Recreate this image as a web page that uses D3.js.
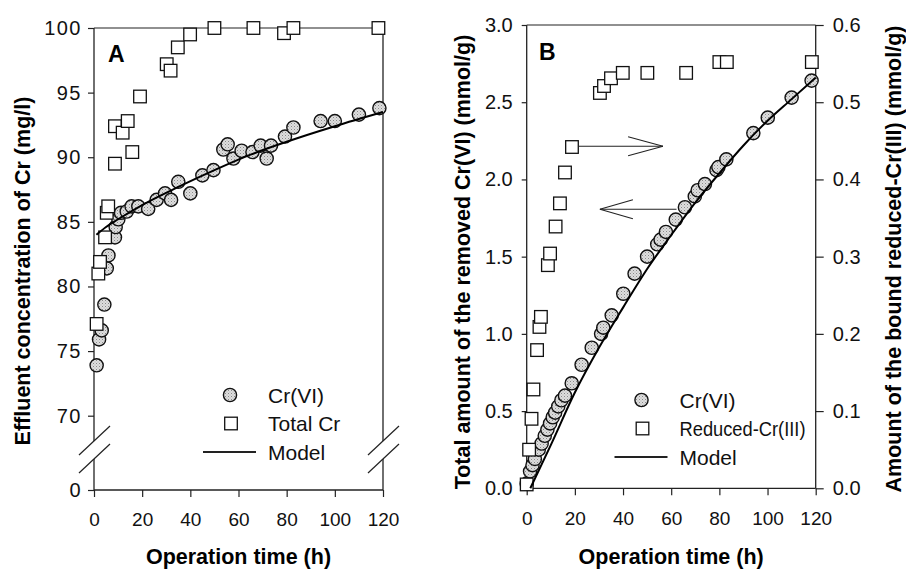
<!DOCTYPE html>
<html>
<head>
<meta charset="utf-8">
<script src="https://cdn.jsdelivr.net/npm/d3@7"></script>
<style>
  body { margin: 0; background: #fff; }
  svg { display: block; font-family: "Liberation Sans", Arial, sans-serif; }
</style>
</head>
<body>
<div id="chart"></div>
<script>
// ---- data ----
var hourTicks = [0, 20, 40, 60, 80, 100, 120];
var aYTicks = [0, 70, 75, 80, 85, 90, 95, 100];
var bLeftTicks = [0, 0.5, 1.0, 1.5, 2.0, 2.5, 3.0];
var bRightTicks = [0, 0.1, 0.2, 0.3, 0.4, 0.5, 0.6];

// panel A : effluent concentration (mg/l)
var aCrVI = [
    [1.1, 73.9], [2.1, 75.9], [3.2, 76.6], [4.3, 78.6], [5.3, 81.4], [6.0, 82.4],
    [8.7, 83.8], [9.0, 84.6], [10.1, 85.2], [11.2, 85.7], [13.6, 85.8], [15.6, 86.2],
    [18.4, 86.2], [22.5, 86.0], [26.0, 86.7], [29.5, 87.2], [32.0, 86.7], [35.0, 88.1],
    [40.0, 87.2], [45.0, 88.6], [49.6, 89.0], [53.7, 90.6], [55.5, 91.0], [57.9, 89.9],
    [61.3, 90.5], [65.8, 90.4], [69.2, 90.9], [71.7, 89.9], [73.5, 90.9], [79.3, 91.6],
    [82.8, 92.3], [94.1, 92.8], [100, 92.8], [110, 93.3], [118.5, 93.8]
];
var aTotalCr = [
    [1.1, 77.1], [1.8, 81.0], [2.5, 81.9], [4.6, 83.8], [5.3, 85.7], [5.9, 86.2],
    [8.7, 89.5], [8.7, 92.4], [11.9, 91.9], [14.0, 92.8], [15.9, 90.4], [19.1, 94.7],
    [30.2, 97.2], [31.8, 96.7], [34.8, 98.5], [39.9, 99.5], [50.0, 100], [66.2, 100],
    [78.9, 99.6], [82.8, 100], [118.1, 100]
];
var aModel = [
    [1, 84.0], [5, 84.6], [10, 85.2], [20, 86.3], [35, 87.7], [50, 89.0],
    [65, 90.2], [80, 91.2], [100, 92.4], [120, 93.5]
];

// panel B : removed Cr(VI) (left axis) and bound reduced Cr(III) (right axis), mmol/g
var bCrVI = [
    [0, 0.03], [1.4, 0.11], [2.4, 0.15], [3.4, 0.19], [5.0, 0.25], [6.2, 0.29],
    [7.5, 0.34], [8.6, 0.38], [9.7, 0.42], [10.8, 0.46], [11.8, 0.49], [13.1, 0.53],
    [14.4, 0.57], [15.9, 0.60], [18.7, 0.68], [22.8, 0.80], [27.0, 0.91], [30.9, 1.00],
    [31.8, 1.04], [35.3, 1.12], [40.1, 1.26], [44.8, 1.39], [50.0, 1.50], [54.2, 1.58],
    [55.6, 1.61], [57.8, 1.66], [61.9, 1.74], [65.7, 1.82], [69.8, 1.89], [71.0, 1.93],
    [74.0, 1.97], [78.8, 2.06], [79.6, 2.08], [82.9, 2.13], [94.1, 2.30], [100.1, 2.40],
    [110, 2.53], [118.3, 2.64]
];
var bReduced = [
    [0, 0.005], [1.0, 0.05], [2.0, 0.09], [2.8, 0.128], [4.3, 0.179], [5.3, 0.209],
    [5.9, 0.222], [8.8, 0.289], [9.7, 0.304], [12.0, 0.339], [13.8, 0.369], [15.9, 0.409],
    [18.8, 0.442], [30.4, 0.512], [32.1, 0.521], [35.0, 0.531], [39.9, 0.538], [50.1, 0.538],
    [66.2, 0.538], [80.0, 0.552], [83.1, 0.552], [118.4, 0.552]
];
var bModel = [
    [1.5, 0], [10, 0.28], [20, 0.62], [30, 0.91], [40, 1.17], [50, 1.42], [60, 1.64],
    [70, 1.85], [80, 2.04], [90, 2.22], [100, 2.38], [110, 2.52], [120, 2.66]
];
// arrows in B: [from hour, to hour, head base hour, value]
var arrowRight = [21.3, 56.6, 42.1, 0.443];   // right axis units
var arrowLeft = [62.2, 30.4, 44.1, 1.807];    // left axis units

var width = 906, height = 570;
var titleFont = "21.5px", tickFont = "19px", legendFont = "21px";

var svg = d3.select("#chart").append("svg")
    .attr("width", width)
    .attr("height", height);

// halftone-ish fill for the circles
var defs = svg.append("defs");
var pat = defs.append("pattern")
    .attr("id", "dots")
    .attr("width", 3).attr("height", 3)
    .attr("patternUnits", "userSpaceOnUse");
pat.append("rect").attr("width", 3).attr("height", 3).attr("fill", "#dedede");
pat.append("rect").attr("width", 1).attr("height", 1).attr("fill", "#8a8a8a");
pat.append("rect").attr("x", 1.5).attr("y", 1.5).attr("width", 1).attr("height", 1).attr("fill", "#b0b0b0");

var lineColor = "#222";
var circR = 6.6, sq = 12.6;

function styleAxis(g, fs) {
    g.select(".domain").remove();
    g.selectAll(".tick line").attr("stroke", lineColor).attr("stroke-width", 1.2);
    g.selectAll(".tick text").attr("fill", "#111").style("font-size", fs)
        .style("font-family", "'Liberation Sans', Arial, sans-serif");
}

function drawCircles(g, data, x, y) {
    g.append("g").selectAll("circle")
        .data(data).enter()
      .append("circle")
        .attr("cx", function(d) { return x(d[0]); })
        .attr("cy", function(d) { return y(d[1]); })
        .attr("r", circR)
        .attr("fill", "url(#dots)")
        .attr("stroke", "#111")
        .attr("stroke-width", 1.4);
}

function drawSquares(g, data, x, y) {
    g.append("g").selectAll("rect")
        .data(data).enter()
      .append("rect")
        .attr("x", function(d) { return x(d[0]) - sq / 2; })
        .attr("y", function(d) { return y(d[1]) - sq / 2; })
        .attr("width", sq)
        .attr("height", sq)
        .attr("fill", "#fff")
        .attr("stroke", "#111")
        .attr("stroke-width", 1.3);
}

function drawModel(g, data, x, y) {
    var line = d3.line()
        .x(function(d) { return x(d[0]); })
        .y(function(d) { return y(d[1]); })
        .curve(d3.curveMonotoneX);
    g.append("path")
        .datum(data)
        .attr("d", line)
        .attr("fill", "none")
        .attr("stroke", "#000")
        .attr("stroke-width", 2);
}

function seg(g, x1, y1, x2, y2, w) {
    g.append("line")
        .attr("x1", x1).attr("y1", y1).attr("x2", x2).attr("y2", y2)
        .attr("stroke", lineColor).attr("stroke-width", w || 1.2);
}

function legend(g, lx, ly, labels, squareLen) {
    var rowGap = 28.5;
    g.append("circle").attr("cx", lx).attr("cy", ly).attr("r", circR)
        .attr("fill", "url(#dots)").attr("stroke", "#111").attr("stroke-width", 1.4);
    g.append("rect").attr("x", lx + 1 - sq / 2).attr("y", ly + rowGap - sq / 2)
        .attr("width", sq).attr("height", sq)
        .attr("fill", "#fff").attr("stroke", "#111").attr("stroke-width", 1.3);
    seg(g, lx - 27, ly + rowGap * 2, lx + 26, ly + rowGap * 2, 2);
    labels.forEach(function(t, i) {
        var txt = g.append("text")
            .attr("x", lx + 38)
            .attr("y", ly + rowGap * i + 7.5)
            .style("font-size", legendFont)
            .attr("fill", "#111")
            .text(t);
        if (i === 1 && squareLen) {
            txt.attr("textLength", squareLen).attr("lengthAdjust", "spacingAndGlyphs");
        }
    });
}

// ================= Panel A =================
var ax = d3.scaleLinear().domain([0, 120]).range([94, 383]);
var ay = d3.scaleLinear().domain([0, 70, 100]).range([490, 415.7, 28]);
var gA = svg.append("g");

var brkA = ay(0) - 40;   // centre of the axis break
// frame with breaks on left and right
[ax(0), ax(120)].forEach(function(xx) {
    seg(gA, xx, ay(100), xx, brkA - 9, 1.3);
    seg(gA, xx, brkA + 9, xx, ay(0), 1.3);
    seg(gA, xx - 15, brkA - 9 + 14, xx + 16, brkA - 9 - 15, 1.2);
    seg(gA, xx - 15, brkA + 9 + 14, xx + 16, brkA + 9 - 15, 1.2);
});
seg(gA, ax(0), ay(100), ax(120), ay(100), 1.1);
seg(gA, ax(0), ay(0), ax(120), ay(0), 1.3);

gA.append("g")
    .attr("transform", "translate(0," + ay(0) + ")")
    .call(d3.axisBottom(ax).tickValues(hourTicks).tickSize(7).tickPadding(16))
    .call(function(g) { styleAxis(g, tickFont); });

gA.append("g")
    .attr("transform", "translate(" + ax(0) + ",0)")
    .call(d3.axisLeft(ay).tickValues(aYTicks).tickSize(6).tickPadding(6))
    .call(function(g) {
        styleAxis(g, "20px");
        g.selectAll(".tick text").style("letter-spacing", "1.5px");
    });

drawCircles(gA, aCrVI, ax, ay);
drawSquares(gA, aTotalCr, ax, ay);
drawModel(gA, aModel, ax, ay);

gA.append("text").attr("x", 108).attr("y", 62)
    .style("font-size", "23px").style("font-weight", "bold").text("A");

legend(gA, 230, 395, ["Cr(VI)", "Total Cr", "Model"]);

gA.append("text")
    .attr("x", (ax(0) + ax(120)) / 2).attr("y", 564)
    .attr("text-anchor", "middle")
    .style("font-size", titleFont).style("font-weight", "bold")
    .text("Operation time (h)");

gA.append("text")
    .attr("transform", "translate(30," + 271 + ") rotate(-90)")
    .attr("text-anchor", "middle")
    .style("font-size", titleFont).style("font-weight", "bold")
    .text("Effluent concentration of Cr (mg/l)");

// ================= Panel B =================
var bx = d3.scaleLinear().domain([0, 120]).range([526.7, 815.7]);
var byL = d3.scaleLinear().domain([0, 3]).range([488.3, 25]);
var byR = d3.scaleLinear().domain([0, 0.6]).range([488.3, 25]);
var gB = svg.append("g");

seg(gB, bx(0), byL(3), bx(0), byL(0), 1.3);
seg(gB, bx(120), byL(3), bx(120), byL(0), 1.3);
seg(gB, bx(0), byL(3), bx(120), byL(3), 1.1);
seg(gB, bx(0), byL(0), bx(120), byL(0), 1.3);

gB.append("g")
    .attr("transform", "translate(0," + byL(0) + ")")
    .call(d3.axisBottom(bx).tickValues(hourTicks).tickSize(7).tickPadding(16))
    .call(function(g) { styleAxis(g, tickFont); });

gB.append("g")
    .attr("transform", "translate(" + bx(0) + ",0)")
    .call(d3.axisLeft(byL).tickValues(bLeftTicks).tickFormat(d3.format(".1f")).tickSize(5).tickPadding(9))
    .call(function(g) { styleAxis(g, "20px"); });

gB.append("g")
    .attr("transform", "translate(" + bx(120) + ",0)")
    .call(d3.axisRight(byR).tickValues(bRightTicks).tickFormat(d3.format(".1f")).tickSize(8).tickPadding(9))
    .call(function(g) { styleAxis(g, "20px"); });

drawCircles(gB, bCrVI, bx, byL);
drawSquares(gB, bReduced, bx, byR);
drawModel(gB, bModel, bx, byL);

// arrows
function arrow(g, a, y) {
    var yy = y(a[3]);
    seg(g, bx(a[0]), yy, bx(a[1]), yy, 1.1);
    seg(g, bx(a[1]), yy, bx(a[2]), yy - 9.5, 1.1);
    seg(g, bx(a[1]), yy, bx(a[2]), yy + 9.5, 1.1);
}
arrow(gB, arrowRight, byR);
arrow(gB, arrowLeft, byL);

gB.append("text").attr("x", 539).attr("y", 60)
    .style("font-size", "23px").style("font-weight", "bold").text("B");

legend(gB, 641.5, 400, ["Cr(VI)", "Reduced-Cr(III)", "Model"], 126);

gB.append("text")
    .attr("x", (bx(0) + bx(120)) / 2).attr("y", 564)
    .attr("text-anchor", "middle")
    .style("font-size", titleFont).style("font-weight", "bold")
    .text("Operation time (h)");

gB.append("text")
    .attr("transform", "translate(470," + 262 + ") rotate(-90)")
    .attr("text-anchor", "middle")
    .style("font-size", titleFont).style("font-weight", "bold")
    .text("Total amount of the removed Cr(VI) (mmol/g)");

gB.append("text")
    .attr("transform", "translate(901," + 259 + ") rotate(-90)")
    .attr("text-anchor", "middle")
    .style("font-size", titleFont).style("font-weight", "bold")
    .text("Amount of the bound reduced-Cr(III) (mmol/g)");
</script>
</body>
</html>
